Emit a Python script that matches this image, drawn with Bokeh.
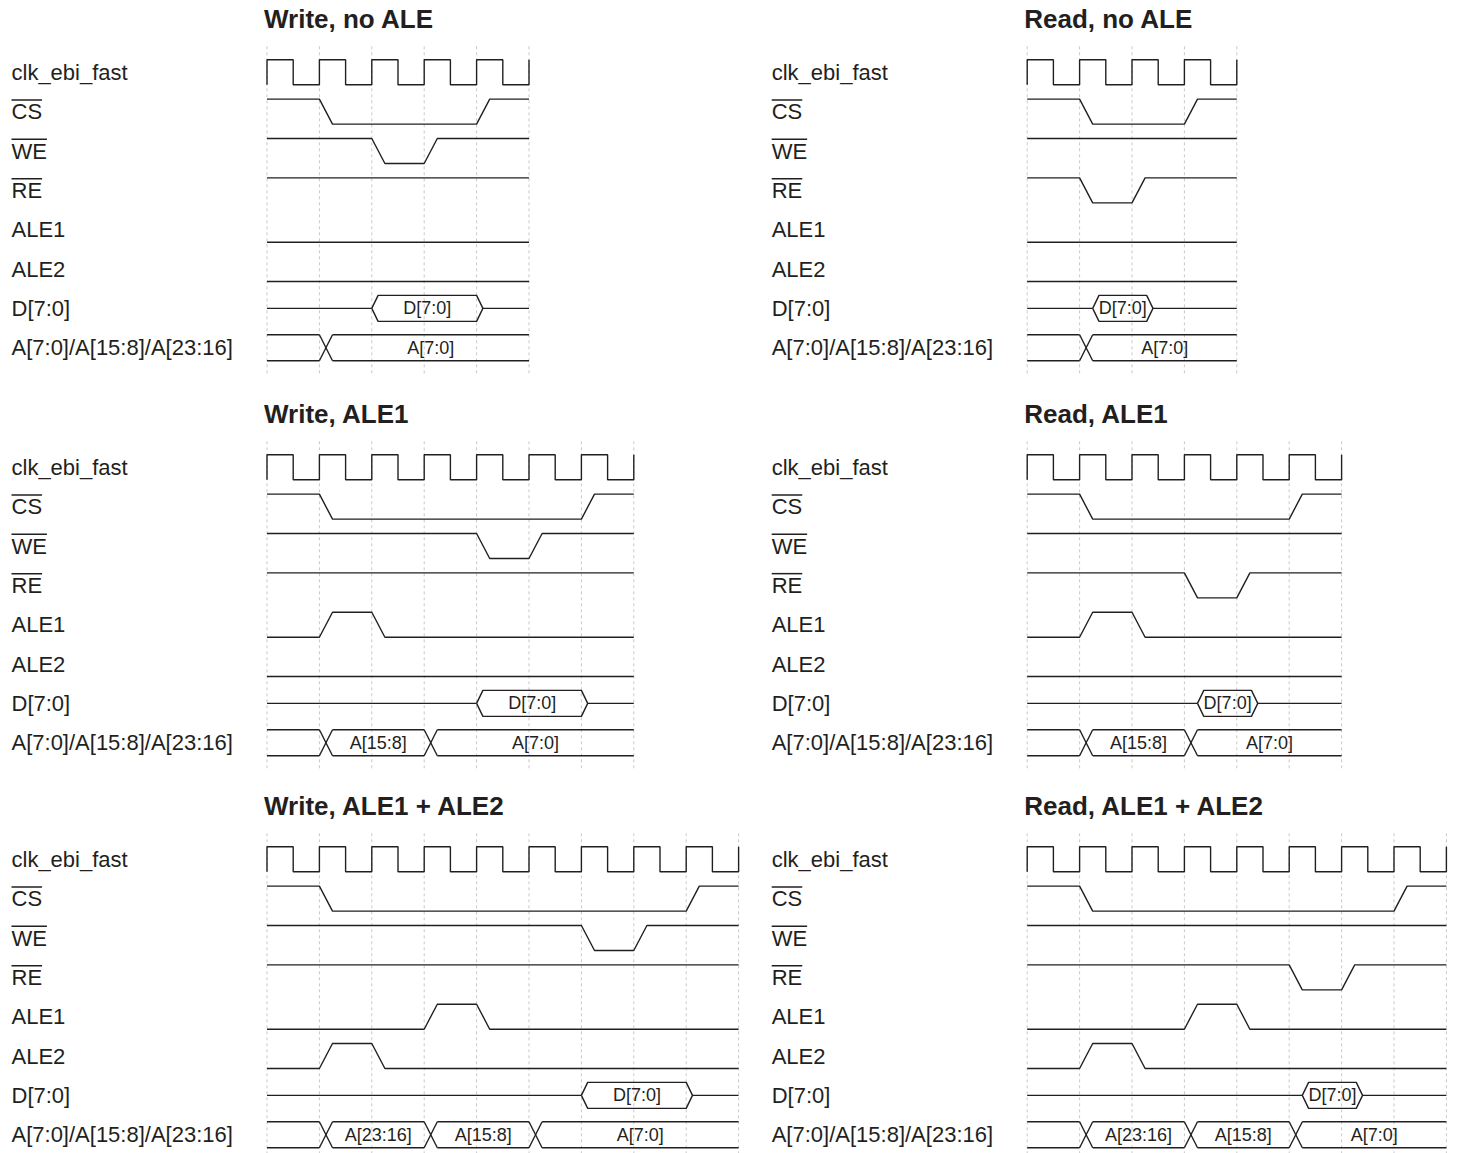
from bokeh.plotting import figure
from bokeh.layouts import column, row
from bokeh.models import Range1d
from bokeh.core.properties import value
from bokeh.embed import file_html
from bokeh.resources import INLINE

# ---------------- data ----------------
PANEL_TITLES = ["Write, no ALE", "Read, no ALE",
                "Write, ALE1", "Read, ALE1",
                "Write, ALE1 + ALE2", "Read, ALE1 + ALE2"]
CLOCK_CYCLES = [5, 4, 7, 6, 9, 8]
CS_PULSE = [(1, 4), (1, 3), (1, 6), (1, 5), (1, 8), (1, 7)]
WE_PULSE = [(2, 3), None, (4, 5), None, (6, 7), None]
RE_PULSE = [None, (1, 2), None, (3, 4), None, (5, 6)]
ALE1_PULSE = [None, None, (1, 2), (1, 2), (3, 4), (3, 4)]
ALE2_PULSE = [None, None, None, None, (1, 2), (1, 2)]
DATA_WINDOW = [(2, 4), (1.25, 2.28), (4, 6), (3.25, 4.28), (6, 8), (5.25, 6.28)]
DATA_LABEL = "D[7:0]"
ADDR_CHANGES = [[1], [1], [1, 3], [1, 3], [1, 3, 5], [1, 3, 5]]
ADDR_VALUES = [["A[7:0]"], ["A[7:0]"],
               ["A[15:8]", "A[7:0]"], ["A[15:8]", "A[7:0]"],
               ["A[23:16]", "A[15:8]", "A[7:0]"], ["A[23:16]", "A[15:8]", "A[7:0]"]]
SIGNAL_NAMES = ["clk_ebi_fast", "CS", "WE", "RE", "ALE1", "ALE2", "D[7:0]",
                "A[7:0]/A[15:8]/A[23:16]"]
OVERLINED = [False, True, True, True, False, False, False, False]

# ---------------- layout / style ----------------
PX_PER_CYCLE = 52.4
PX_PER_ROW = 39.35
LABEL_GAP = 255.5
COL_WIDTHS = [760, 697]
COL_T0 = [266.5, 266.7]
ROW_HEIGHTS = [395, 392, 366]
ROW0_TOP = 71.8
EDGE = 0.25
TAPER = 0.12
AMP = 12.5 / PX_PER_ROW
BUS = 13.0 / PX_PER_ROW
INK = "#231f20"
GRID = "#c8c8c8"
FONT = "Liberation Sans"
LABEL_SIZE = 22
ARIAL_W = {"C": 0.722, "S": 0.667, "W": 0.944, "E": 0.667, "R": 0.722}


def level_wave(yc, pulse, active_low, n):
    base = yc + AMP if active_low else yc - AMP
    other = yc - AMP if active_low else yc + AMP
    if pulse is None:
        return [0, n], [base, base]
    s, e = pulse
    return ([0, s, s + EDGE, e, e + EDGE, n],
            [base, base, other, other, base, base])


def make_panel(k, col, ri):
    W = COL_WIDTHS[col]
    H = ROW_HEIGHTS[ri]
    x0 = -COL_T0[col] / PX_PER_CYCLE
    x1 = x0 + W / PX_PER_CYCLE
    y1 = ROW0_TOP / PX_PER_ROW
    y0 = y1 - H / PX_PER_ROW
    p = figure(width=W, height=H, x_range=Range1d(x0, x1), y_range=Range1d(y0, y1),
               output_backend="svg", toolbar_location=None, min_border=0,
               x_axis_type=None, y_axis_type=None, outline_line_color=None)
    p.background_fill_color = "white"
    p.border_fill_color = "white"

    n = CLOCK_CYCLES[k]
    # dashed cycle grid
    ticks = list(range(n + 1))
    p.segment(x0=ticks, y0=[0.66] * len(ticks), x1=ticks, y1=[-7.65] * len(ticks),
              line_color=GRID, line_dash="3 3", line_width=1)

    xs, ys = [], []
    # clock (row 0)
    cx, cy = [], []
    for c in range(n):
        cx += [c, c, c + 0.5, c + 0.5]
        cy += [-AMP, AMP, AMP, -AMP]
    cx += [n, n]
    cy += [-AMP, AMP]
    xs.append(cx); ys.append(cy)

    # control signals
    for ri_sig, pulse, act_low in [(1, CS_PULSE[k], True), (2, WE_PULSE[k], True),
                                   (3, RE_PULSE[k], True), (4, ALE1_PULSE[k], False),
                                   (5, ALE2_PULSE[k], False)]:
        wx, wy = level_wave(-ri_sig, pulse, act_low, n)
        xs.append(wx); ys.append(wy)

    # data bus (row 6)
    yd = -6
    ds, de = DATA_WINDOW[k]
    xs.append([0, ds]); ys.append([yd, yd])
    xs.append([ds, ds + TAPER, de, de + TAPER, de, ds + TAPER, ds])
    ys.append([yd, yd + BUS, yd + BUS, yd, yd - BUS, yd - BUS, yd])
    xs.append([de + TAPER, n]); ys.append([yd, yd])

    # address bus (row 7)
    ya = -7
    changes = ADDR_CHANGES[k]
    bounds = [0] + changes
    ends = changes + [n]
    label_x = []
    for i, (s, e) in enumerate(zip(bounds, ends)):
        st = s if i == 0 else s + EDGE
        xs.append([st, e]); ys.append([ya + BUS, ya + BUS])
        xs.append([st, e]); ys.append([ya - BUS, ya - BUS])
        if i > 0:
            label_x.append((st + e) / 2)
    for c in changes:
        xs.append([c, c + EDGE]); ys.append([ya + BUS, ya - BUS])
        xs.append([c, c + EDGE]); ys.append([ya - BUS, ya + BUS])

    p.multi_line(xs=xs, ys=ys, line_color=INK, line_width=1.4)

    # bus value labels
    p.text(x=[(ds + de + TAPER) / 2] + label_x,
           y=[yd] + [ya] * len(label_x),
           text=[DATA_LABEL] + ADDR_VALUES[k],
           text_font=value(FONT), text_font_size="18px", text_color=INK,
           text_align="center", text_baseline="middle")

    # signal names
    lx = -LABEL_GAP / PX_PER_CYCLE
    p.text(x=[lx] * len(SIGNAL_NAMES), y=[-i for i in range(len(SIGNAL_NAMES))],
           text=SIGNAL_NAMES, text_font=value(FONT),
           text_font_size=f"{LABEL_SIZE}px", text_color=INK,
           text_align="left", text_baseline="middle")
    ox0, ox1, oy = [], [], []
    for i, (name, ov) in enumerate(zip(SIGNAL_NAMES, OVERLINED)):
        if ov:
            wpx = sum(ARIAL_W[ch] for ch in name) * LABEL_SIZE
            ox0.append(lx); ox1.append(lx + wpx / PX_PER_CYCLE)
            oy.append(-i + 11.7 / PX_PER_ROW)
    p.segment(x0=ox0, y0=oy, x1=ox1, y1=oy, line_color=INK, line_width=1.5)

    # panel title
    p.text(x=[-3 / PX_PER_CYCLE], y=[53 / PX_PER_ROW], text=[PANEL_TITLES[k]],
           text_font=value(FONT), text_font_size="26px", text_font_style="bold",
           text_color=INK, text_align="left", text_baseline="middle")
    return p


rows = []
for ri in range(3):
    rows.append(row(make_panel(2 * ri, 0, ri), make_panel(2 * ri + 1, 1, ri)))
layout = column(*rows)

open("out.html", "w").write(file_html(layout, INLINE))
